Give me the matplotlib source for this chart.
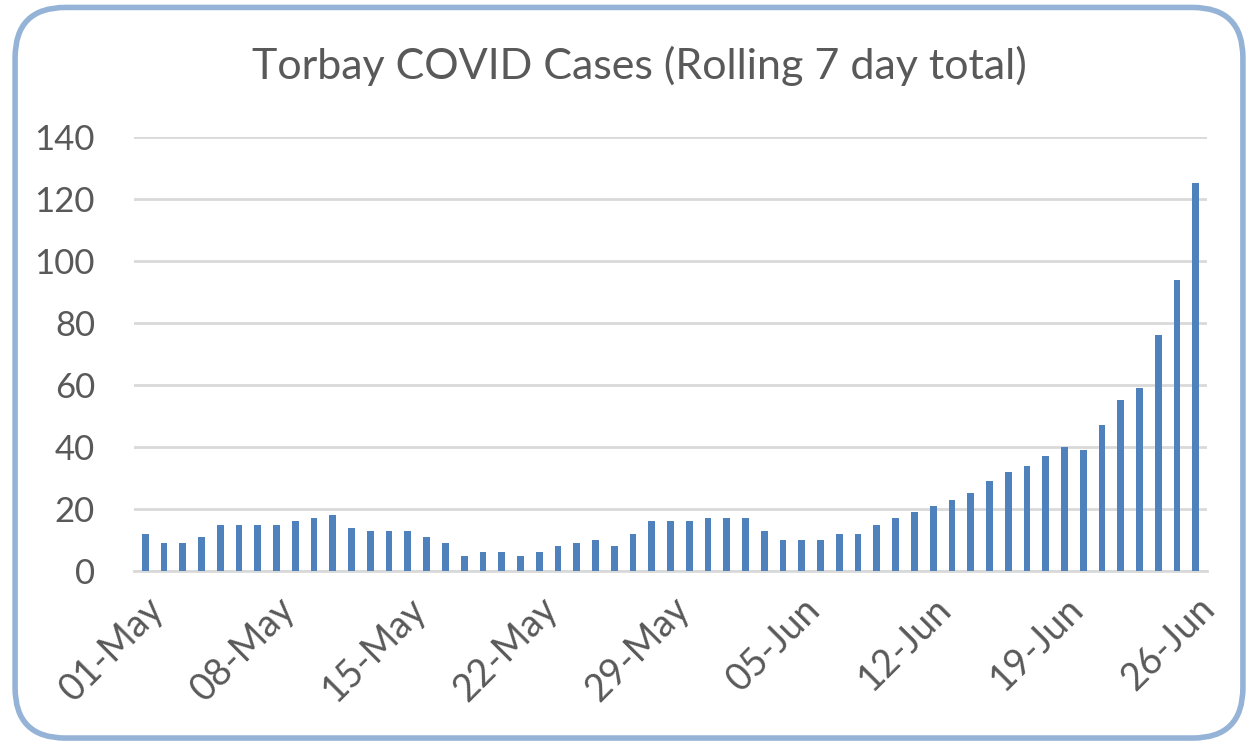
import matplotlib.pyplot as plt
from matplotlib.patches import FancyBboxPatch
from matplotlib.transforms import ScaledTranslation

plt.rcParams["font.family"] = ["Lato", "DejaVu Sans"]

TITLE = "Torbay COVID Cases (Rolling 7 day total)"

# 01-May .. 26-Jun, one value per day
day_labels = [f"{d:02d}-May" for d in range(1, 32)] + [f"{d:02d}-Jun" for d in range(1, 27)]
cases = [
    12, 9, 9, 11, 15, 15, 15, 15, 16, 17, 18, 14, 13, 13, 13, 11, 9, 5, 6, 6, 5,
    6, 8, 9, 10, 8, 12, 16, 16, 16, 17, 17, 17, 13, 10, 10, 10, 12, 12, 15, 17,
    19, 21, 23, 25, 29, 32, 34, 37, 40, 39, 47, 55, 59, 76, 94, 125,
]
tick_every = 7

BAR_COLOR = "#4F81BD"
GRID_COLOR = "#D9D9D9"
TEXT_COLOR = "#595959"

fig = plt.figure(figsize=(12.58, 7.44), dpi=100)
ax = fig.add_axes([0.1065, 0.2325, 0.853, 0.5835])

x = list(range(len(cases)))
ax.bar(x, cases, width=0.36, color=BAR_COLOR, zorder=3)

ax.set_ylim(0, 140)
ax.set_yticks(range(0, 141, 20))
ax.set_xlim(-0.6, len(cases) - 0.4)
ax.grid(axis="y", color=GRID_COLOR, linewidth=2, zorder=0)
ax.set_axisbelow(True)

ticks = x[::tick_every]
ax.set_xticks(ticks)
ax.set_xticklabels([day_labels[i] for i in ticks], rotation=45, ha="right",
                   rotation_mode="anchor", fontsize=27, color=TEXT_COLOR)
shift = ScaledTranslation(0.1, -0.02, fig.dpi_scale_trans)
for lab in ax.get_xticklabels():
    lab.set_transform(lab.get_transform() + shift)
for lab in ax.get_yticklabels():
    lab.set_fontsize(25)
    lab.set_color(TEXT_COLOR)

ax.tick_params(axis="x", length=0, pad=14)
ax.tick_params(axis="y", length=0, pad=28)
for side in ["top", "right", "left"]:
    ax.spines[side].set_visible(False)
ax.spines["bottom"].set_color(GRID_COLOR)
ax.spines["bottom"].set_linewidth(2)

fig.text(0.508, 0.912, TITLE, ha="center", va="center", fontsize=31, color=TEXT_COLOR)

border = FancyBboxPatch((0.012, 0.008), 0.976, 0.982,
                        boxstyle="round,pad=0,rounding_size=0.04",
                        transform=fig.transFigure, facecolor="none",
                        edgecolor="#95B3D7", linewidth=4, mutation_aspect=1258 / 744)
fig.patches.append(border)

fig.savefig("out.png", dpi=100)
